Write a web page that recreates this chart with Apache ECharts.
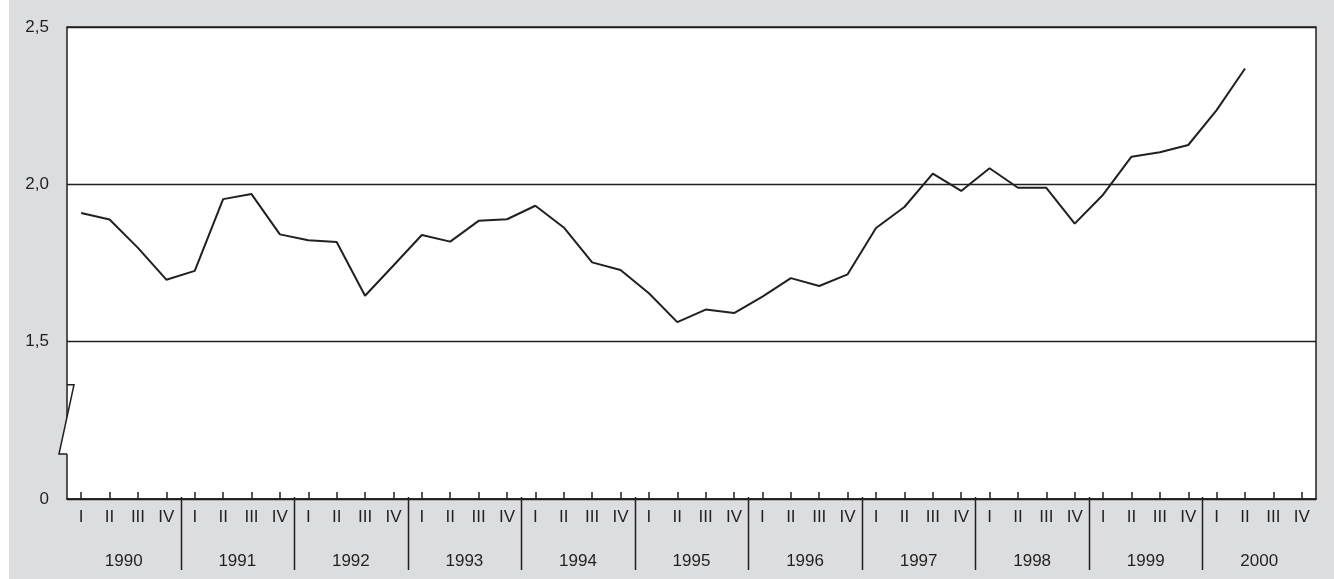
<!DOCTYPE html>
<html>
<head>
<meta charset="utf-8">
<script src="https://cdn.jsdelivr.net/npm/echarts@6/dist/echarts.min.js"></script>
<style>
html,body{margin:0;padding:0;background:#fff;}
#c{width:1334px;height:579px;background:linear-gradient(to right,#fff 9px,#dcdddf 9px);}
</style>
</head>
<body>
<div id="c"></div>
<script>
// ---- data ----
const years = ['1990','1991','1992','1993','1994','1995','1996','1997','1998','1999','2000'];
const quarters = ['I','II','III','IV'];
const values = [
  1.909, 1.888, 1.798, 1.697,   // 1990
  1.725, 1.953, 1.969, 1.841,   // 1991
  1.822, 1.817, 1.646, 1.742,   // 1992
  1.839, 1.818, 1.884, 1.889,   // 1993
  1.932, 1.863, 1.752, 1.728,   // 1994
  1.654, 1.562, 1.602, 1.591,   // 1995
  1.643, 1.702, 1.677, 1.714,   // 1996
  1.861, 1.928, 2.034, 1.979,   // 1997
  2.051, 1.989, 1.989, 1.875,   // 1998
  1.967, 2.088, 2.102, 2.125,   // 1999
  2.236, 2.368, null, null      // 2000
];
// y ticks: the axis is broken between 0 and 1,5
const yTickValues = [1.0, 1.5, 2.0, 2.5];
const yTickLabels = ['0', '1,5', '2,0', '2,5'];

const quarterCats = years.flatMap(() => quarters);
const ink = '#231f20';
const font = 'Liberation Sans, Arial, sans-serif';

const chart = echarts.init(document.getElementById('c'), null, {renderer: 'canvas'});
const option = {
  backgroundColor: 'transparent',
  animation: false,
  grid: {
    left: 67, right: 18, top: 27, bottom: 80,
    show: true, backgroundColor: '#ffffff',
    borderColor: ink, borderWidth: 1.5
  },
  xAxis: [
    {
      type: 'category', data: quarterCats, position: 'bottom', boundaryGap: true,
      axisLine: {show: true, lineStyle: {color: ink, width: 1.5}},
      axisTick: {show: true, inside: true, length: 7, alignWithLabel: true, interval: 0,
                 lineStyle: {color: ink, width: 1.5}},
      axisLabel: {interval: 0, color: ink, fontSize: 17, fontFamily: font, margin: 10},
      splitLine: {show: false}
    },
    {
      type: 'category', data: years, position: 'bottom', boundaryGap: true,
      axisLine: {show: false}, axisTick: {show: false},
      axisLabel: {interval: 0, color: ink, fontSize: 17, fontFamily: font, margin: 54},
      splitLine: {show: false}
    }
  ],
  yAxis: {
    type: 'value', min: yTickValues[0], max: yTickValues[yTickValues.length - 1], interval: 0.5,
    axisLine: {show: false}, axisTick: {show: false},
    axisLabel: {
      color: ink, fontSize: 17, fontFamily: font, margin: 18,
      formatter: function (v) {
        const i = yTickValues.findIndex(t => Math.abs(t - v) < 1e-9);
        return i >= 0 ? yTickLabels[i] : '';
      }
    },
    splitLine: {show: true, lineStyle: {color: ink, width: 1.3}}
  },
  series: [{
    type: 'line', data: values, xAxisIndex: 0, yAxisIndex: 0,
    showSymbol: false, symbol: 'none', connectNulls: false,
    lineStyle: {color: ink, width: 2}, z: 5
  }]
};
chart.setOption(option);

// ---- decorations: axis break and year separators ----
const px = i => chart.convertToPixel({xAxisIndex: 0}, i);
const py = v => chart.convertToPixel({yAxisIndex: 0}, v);
const band = px(1) - px(0);
const gl = px(0) - band / 2;
const yBase = py(yTickValues[0]);
const breakTop = py(1.363), breakBot = py(1.143);

const gfx = [];
gfx.push({
  type: 'polygon', z: 100, silent: true,
  shape: {points: [[gl + 7, breakTop + 0.8], [gl - 8, breakBot], [gl + 2, breakBot], [gl + 2, breakTop + 0.8]]},
  style: {fill: '#ffffff'}
});
gfx.push({
  type: 'polyline', z: 101, silent: true,
  shape: {points: [[gl, breakTop], [gl + 7, breakTop], [gl - 8, breakBot], [gl, breakBot]]},
  style: {stroke: ink, lineWidth: 1.5, fill: null}
});
for (let k = 1; k < years.length; k++) {
  const x = Math.round((px(4 * k - 1) + px(4 * k)) / 2) + 0.5;
  gfx.push({
    type: 'line', z: 100, silent: true,
    shape: {x1: x, y1: yBase - 2, x2: x, y2: yBase + 71},
    style: {stroke: ink, lineWidth: 1.5}
  });
}
chart.setOption({graphic: gfx});
</script>
</body>
</html>
